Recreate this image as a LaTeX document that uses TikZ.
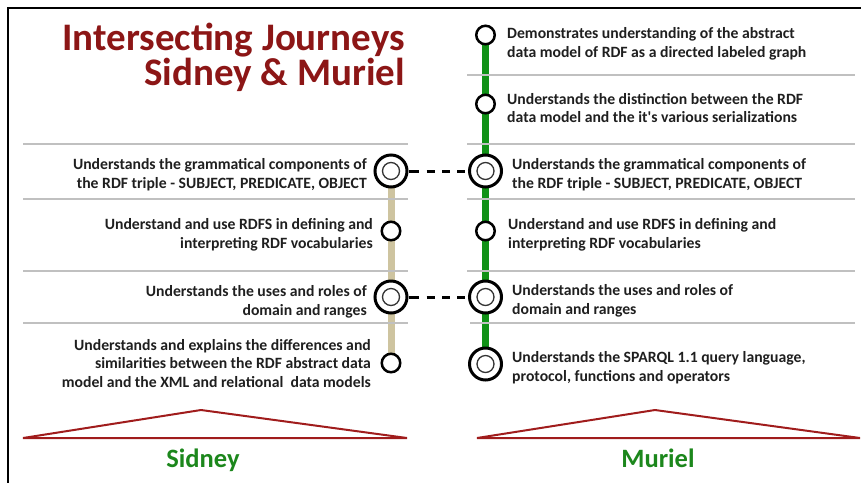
\documentclass[tikz,border=0pt]{standalone}
\usepackage{fontspec}
\setmainfont{Carlito}
\usetikzlibrary{backgrounds}
\definecolor{titlered}{RGB}{140,22,22}
\definecolor{trired}{RGB}{160,28,28}
\definecolor{trackgreen}{RGB}{16,145,22}
\definecolor{labelgreen}{RGB}{28,135,28}
\definecolor{tantrack}{RGB}{206,196,160}
\definecolor{sepgray}{RGB}{192,192,192}
\tikzset{
  smallstop/.style={circle, draw=black, line width=2.5pt, fill=white, minimum size=18.5pt, inner sep=0pt},
  bigstop/.style={circle, draw=black, line width=3pt, fill=white, minimum size=32pt, inner sep=0pt,
    path picture={\draw[line width=1.3pt, black!80] (path picture bounding box.center) circle (8.5pt);}},
  bodytxt/.style={font=\fontsize{15.7}{18.5}\selectfont\bfseries, text=black!88, inner sep=0pt},
  lefttxt/.style={bodytxt, align=right, anchor=base east},
  righttxt/.style={bodytxt, align=left, anchor=base west},
  sepline/.style={draw=sepgray, line width=2pt},
  frameline/.style={draw=black, line width=2pt},
  triline/.style={draw=trired, line width=2pt, line join=miter},
  connector/.style={draw=black, line width=3pt, dash pattern=on 10pt off 8pt on 8pt off 7.5pt on 8pt off 7pt on 8pt off 2.5pt on 30pt},
  trackA/.style={draw=tantrack, line width=7pt},
  trackB/.style={draw=trackgreen, line width=7pt},
  namelabel/.style={font=\fontsize{26.5}{30}\selectfont\bfseries, text=labelgreen, inner sep=0pt, anchor=base}
}
\begin{document}
\begin{tikzpicture}[x=1pt,y=-1pt]
\useasboundingbox (0,0) rectangle (861,483);
% frame
\coordinate (ftl) at (8,8);
\coordinate (ftr) at (861,8);
\coordinate (fbl) at (8,483);
\draw[frameline] (ftr) -- (ftl) -- (fbl);
% title (base anchor = last line)
\node[font=\fontsize{39}{35}\selectfont\bfseries, text=titlered, align=right, anchor=base east, inner sep=0pt] (title) at (405,85) {Intersecting Journeys\\Sidney \& Muriel};
% separator lines
\foreach \y/\n in {144/a,199/b,271/c,323/d}{
  \coordinate (ls\n1) at (23,\y); \coordinate (ls\n2) at (408,\y);
  \draw[sepline] (ls\n1) -- (ls\n2);
}
\foreach \y/\n in {75/z,144/a,199/b,271/c}{
  \coordinate (rs\n1) at (467,\y); \coordinate (rs\n2) at (855,\y);
  \draw[sepline] (rs\n1) -- (rs\n2);
}
\coordinate (rsd1) at (470,323); \coordinate (rsd2) at (855,323);
\draw[sepline] (rsd1) -- (rsd2);
% stops left (Sidney)
\node[bigstop] (l3) at (391,171) {};
\node[smallstop] (l4) at (391,231) {};
\node[bigstop] (l5) at (391,297) {};
\node[smallstop] (l6) at (391,363) {};
% stops right (Muriel)
\node[smallstop] (r1) at (485.5,35) {};
\node[smallstop] (r2) at (485.5,104) {};
\node[bigstop] (r3) at (485.5,171) {};
\node[smallstop] (r4) at (485.5,231) {};
\node[bigstop] (r5) at (485.5,297) {};
\node[bigstop] (r6) at (485.5,364) {};
% tracks
\begin{scope}[on background layer]
\draw[trackA] (l3.center) -- (l6.center);
\draw[trackB] (r1.center) -- (r6.center);
\end{scope}
% connectors
\draw[connector] (l3) -- (r3);
\draw[connector] (l5) -- (r5);
% left texts (base anchor = last line baseline)
\node[lefttxt] (tl3) at (367,188) {Understands the grammatical components of\\the RDF triple - SUBJECT, PREDICATE, OBJECT};
\node[lefttxt] (tl4) at (373,248) {Understand and use RDFS in defining and\\interpreting RDF vocabularies};
\node[lefttxt] (tl5) at (367,315) {Understands the uses and roles of\\domain and ranges};
\node[lefttxt] (tl6) at (371,387) {Understands and explains the differences and\\similarities between the RDF abstract data\\model and the XML and relational\ \ data models};
% right texts
\node[righttxt] (tr1) at (507,57) {Demonstrates understanding of the abstract\\data model of RDF as a directed labeled graph};
\node[righttxt] (tr2) at (507,122.5) {Understands the distinction between the RDF\\data model and the it\textquotesingle s various serializations};
\node[righttxt] (tr3) at (512,188) {Understands the grammatical components of\\the RDF triple - SUBJECT, PREDICATE, OBJECT};
\node[righttxt] (tr4) at (508,248) {Understand and use RDFS in defining and\\interpreting RDF vocabularies};
\node[righttxt] (tr5) at (512,314) {Understands the uses and roles of\\domain and ranges};
\node[righttxt] (tr6) at (512,381) {Understands the SPARQL 1.1 query language,\\protocol, functions and operators};
% triangles
\coordinate (sa) at (23,438); \coordinate (sb) at (201,410); \coordinate (sc) at (407,438);
\draw[triline] (sa) -- (sb) -- (sc) -- cycle;
\coordinate (ma) at (477,438); \coordinate (mb) at (655,410); \coordinate (mc) at (860,438);
\draw[triline] (ma) -- (mb) -- (mc) -- cycle;
% names
\node[namelabel] (sidney) at (203,467) {Sidney};
\node[namelabel] (muriel) at (658,467) {Muriel};
\end{tikzpicture}
\end{document}
